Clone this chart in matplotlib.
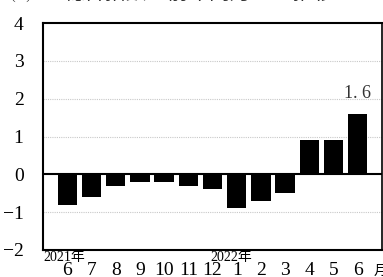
import matplotlib
matplotlib.use("Agg")
import matplotlib.pyplot as plt
import matplotlib.transforms as mtransforms

months = ["6", "7", "8", "9", "10", "11", "12", "1", "2", "3", "4", "5", "6"]
values = [-0.8, -0.6, -0.3, -0.2, -0.2, -0.3, -0.4, -0.9, -0.7, -0.5, 0.9, 0.9, 1.6]
yticks = [4, 3, 2, 1, 0, -1, -2]
ytick_labels = ["4", "3", "2", "1", "0", "\u22121", "\u22122"]
year_labels = [(0, "2021年"), (7, "2022年")]

serif = ["Liberation Serif", "Noto Sans CJK JP"]
jp = ["Noto Sans CJK JP", "DejaVu Sans"]

fig = plt.figure(figsize=(3.83, 2.77), dpi=100)
ax = fig.add_axes([43 / 383, 1 - 250 / 277, 339 / 383, 227 / 277])

x = list(range(len(values)))
ax.bar(x, values, width=0.8, color="black", zorder=3)
ax.axhline(0, color="black", linewidth=1.5, zorder=4)

ax.set_xlim(-1, len(values))
ax.set_ylim(-2, 4)
ax.set_yticks(yticks)
ax.set_yticklabels(ytick_labels, family=serif, fontsize=14)
ax.set_xticks(x)
ax.set_xticklabels(months, family=serif, fontsize=14)
ax.tick_params(axis="y", length=0, pad=14)
ax.tick_params(axis="x", length=0, pad=8.5)

for g in [1, 2, 3, -1]:
    ax.axhline(g, color="#c8c8c8", linewidth=0.8, linestyle=(0, (1, 1)), zorder=1)

for s in ax.spines.values():
    s.set_linewidth(1.5)
ax.spines["right"].set_linewidth(1.2)

# label on the last bar
ax.text(x[-1], values[-1] + 0.3, "1. 6", family=serif, fontsize=13,
        ha="center", va="bottom", color="#333333")

trans = mtransforms.blended_transform_factory(ax.transData, ax.transAxes)
for pos, lab in year_labels:
    ax.text(pos - 1 + (0.0 if pos == 0 else -0.08), -0.003, lab, transform=trans,
            family=serif, fontsize=10, ha="left", va="top")
ax.text(12.65, -0.06, "月", transform=trans, family=jp, fontsize=10,
        ha="left", va="top")

fig.text(63 / 383, 1 + 1 / 277, "総合指数の前年同月比の推移", family=jp,
         fontsize=15, color="#333333", ha="left", va="baseline")
fig.text(10 / 383, 1 + 1 / 277, "(%)", family=serif, fontsize=10,
         color="#333333", ha="left", va="baseline")

fig.savefig("out.png", dpi=100)
